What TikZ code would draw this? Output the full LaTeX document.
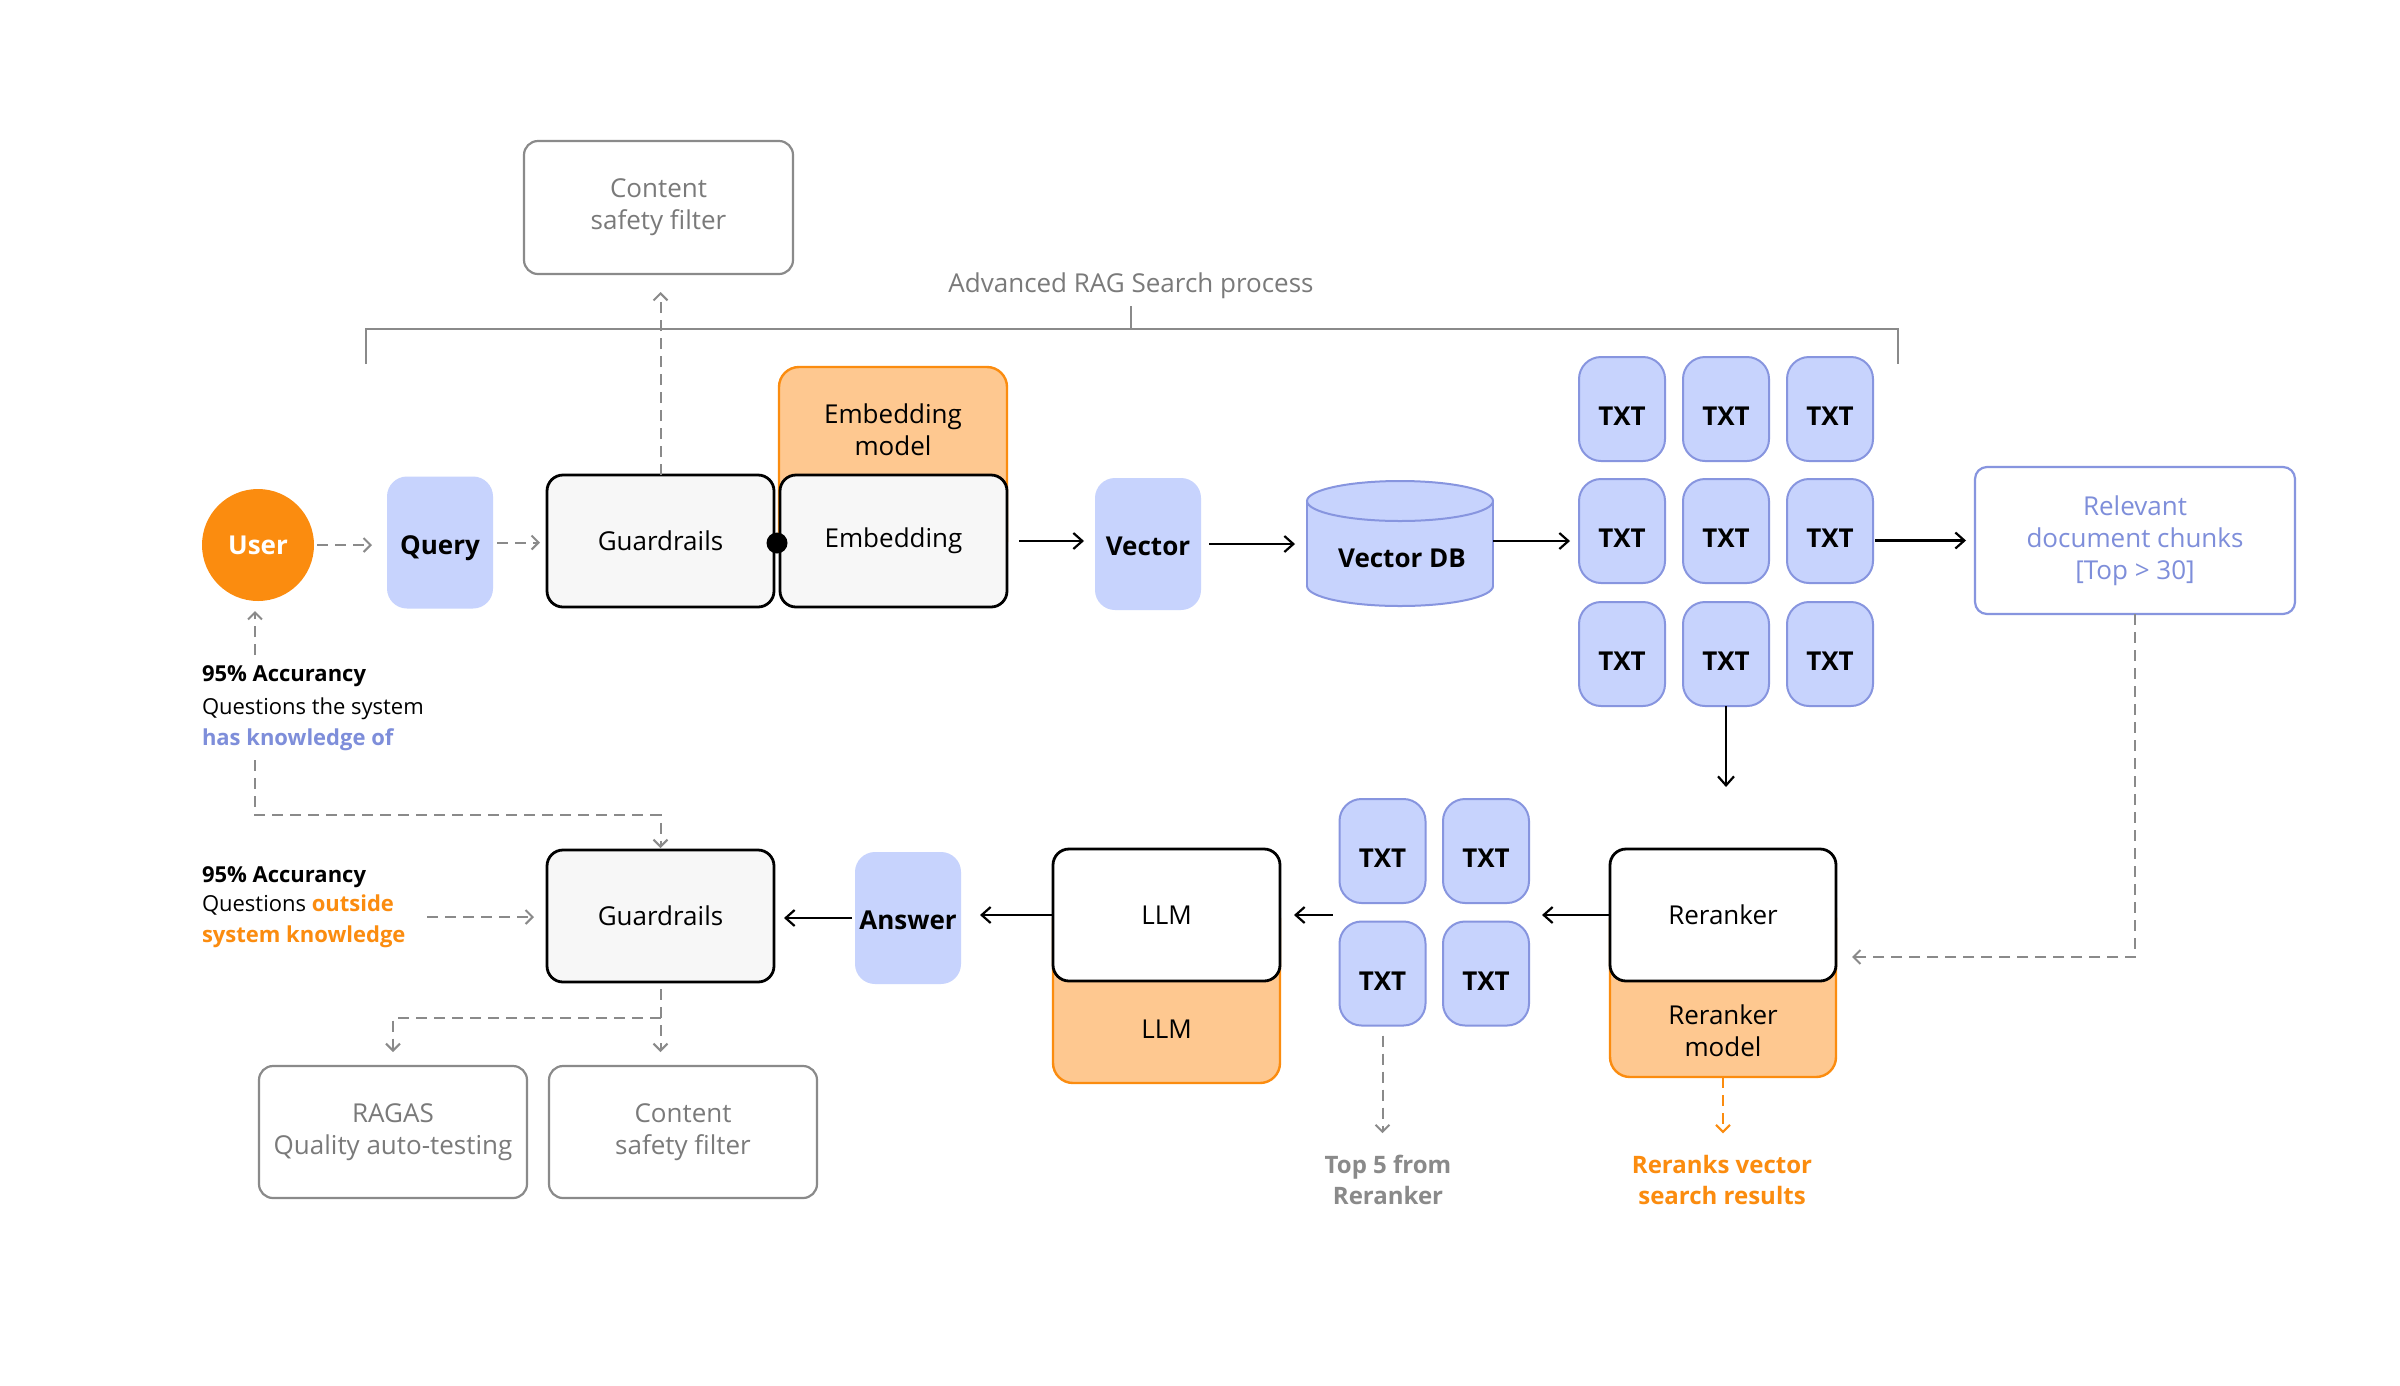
\documentclass[tikz,border=0pt]{standalone}
\usepackage{fontspec}
\setmainfont{Open Sans}
\usetikzlibrary{arrows.meta}
\definecolor{orng}{HTML}{FB8C0F}
\definecolor{orngl}{HTML}{FEC890}
\definecolor{lav}{HTML}{C7D3FD}
\definecolor{lavd}{HTML}{8795DF}
\definecolor{lavt}{HTML}{7E8EDA}
\definecolor{grayb}{HTML}{8A8A8A}
\definecolor{grayt}{HTML}{7A7A7A}
\definecolor{gfill}{HTML}{F7F7F7}
\begin{document}
\begin{tikzpicture}[x=1pt,y=-1pt,
  every node/.style={inner sep=0pt, outer sep=0pt},
  fnt/.style={font=\fontsize{26}{32}\selectfont},
  fntb/.style={font=\fontsize{26}{32}\selectfont\bfseries},
  blk/.style={fnt, draw=black, line width=2.8pt, rounded corners=16pt, fill=gfill, minimum width=227pt, minimum height=132pt},
  pill/.style={fntb, fill=lav, rounded corners=20pt, minimum width=106pt, minimum height=132pt, text height=29pt, text depth=6pt},
  txt/.style={fntb, draw=lavd, line width=2pt, fill=lav, rounded corners=22pt, minimum width=86pt, minimum height=104pt, text height=33pt, text depth=0pt},
  gbox/.style={fnt, draw=grayb, line width=2.2pt, rounded corners=14pt, fill=white, text=grayt, align=center, minimum width=268pt, minimum height=132pt},
  obox/.style={draw=orng, line width=2.4pt, fill=orngl, rounded corners=20pt},
  side/.style={anchor=base west, font=\fontsize{22}{28}\selectfont},
  sideb/.style={anchor=base west, font=\fontsize{22}{28}\selectfont\bfseries},
  note/.style={font=\fontsize{24}{31}\selectfont\bfseries, align=center},
  arr/.style={draw=black, line width=2.2pt, -{Straight Barb[length=9pt,width=16pt]}},
  dsh/.style={draw=grayb, line width=2pt, dash pattern=on 11pt off 7pt, -{Straight Barb[length=7pt,width=14pt]}},
  brk/.style={draw=grayb, line width=2.5pt}
]
\useasboundingbox[fill=white] (0,0) rectangle (2400,1385);

% top content filter and bracket
\node[gbox, minimum width=269pt, minimum height=133pt] (cs1) at (658.5,207.5) {Content\\safety filter};
\node[fnt, text=grayt, anchor=base] (title) at (1131,292) {Advanced RAG Search process};
\coordinate (bl) at (366,364);
\coordinate (br) at (1898,364);
\coordinate (bm) at (1131,329);
\draw[brk] (bl) -- (bl |- bm) -- (br |- bm) -- (br);
\draw[brk] (1131,306) -- (bm);

% upper row
\node[circle, fill=orng, minimum size=112pt, text=white, fntb] (user) at (258,545) {User};
\node[pill] (query) at (440,542.5) {Query};
\node[blk] (g1) at (660.5,541) {Guardrails};
\node[obox, minimum width=228pt, minimum height=193pt] (embm) at (893,463.5) {};
\node[fnt, align=center] (embmt) at (893,430) {Embedding\\model};
\node[blk] (emb) at (893.5,541) {Embedding};
\node[circle, fill=black, minimum size=21pt] (dot) at (777,543) {};
\node[pill] (vec) at (1148,544) {Vector};

% vector db cylinder
\node[minimum width=186pt, minimum height=125pt] (db) at (1400,541) {};
\filldraw[fill=lav, draw=lavd, line width=2pt] (1400,586) ellipse[x radius=93, y radius=20];
\fill[lav] (1307,501) rectangle (1493,586);
\draw[lavd, line width=2pt] (1307,501) -- (1307,586) (1493,501) -- (1493,586);
\filldraw[fill=lav, draw=lavd, line width=2pt] (1400,501) ellipse[x radius=93, y radius=20];
\node[fntb] (dbt) at (1402,558) {Vector DB};

% txt grid
\node[txt] (t11) at (1622,409) {TXT};
\node[txt] (t12) at (1726,409) {TXT};
\node[txt] (t13) at (1830,409) {TXT};
\node[txt] (t21) at (1622,531) {TXT};
\node[txt] (t22) at (1726,531) {TXT};
\node[txt] (t23) at (1830,531) {TXT};
\node[txt] (t31) at (1622,654) {TXT};
\node[txt] (t32) at (1726,654) {TXT};
\node[txt] (t33) at (1830,654) {TXT};

\node[fnt, draw=lavd, line width=2.2pt, rounded corners=12pt, text=lavt, align=center, minimum width=320pt, minimum height=147pt] (rel) at (2135,540.5) {Relevant\\document chunks\\{[Top > 30]}};

% lower row
\node[obox, minimum width=226pt, minimum height=177pt] (rrm) at (1723,988.5) {};
\node[fnt, align=center] (rrmt) at (1723,1031) {Reranker\\model};
\node[blk, fill=white, minimum width=226pt, minimum height=132pt] (rr) at (1723,915) {Reranker};

\node[txt] (s11) at (1382.5,851) {TXT};
\node[txt] (s12) at (1486,851) {TXT};
\node[txt] (s21) at (1382.5,973.5) {TXT};
\node[txt] (s22) at (1486,973.5) {TXT};

\node[obox, minimum width=227pt, minimum height=183pt] (llmm) at (1166.5,991.5) {};
\node[fnt] (llmt) at (1166.5,1029) {LLM};
\node[blk, fill=white, minimum height=132pt] (llm) at (1166.5,915) {LLM};

\node[pill] (ans) at (908,918) {Answer};
\node[blk, minimum height=132pt] (g2) at (660.5,916) {Guardrails};

\node[gbox] (ragas) at (393,1132) {RAGAS\\Quality auto-testing};
\node[gbox] (cs2) at (683,1132) {Content\\safety filter};

% side texts
\node[sideb] (acc1) at (202,681) {95\% Accurancy};
\node[side] (q1) at (202,714) {Questions the system};
\node[sideb, text=lavt] (k1) at (202,745) {has knowledge of};
\node[sideb] (acc2) at (202,882) {95\% Accurancy};
\node[side] (q2) at (202,911) {Questions {\bfseries\color{orng}outside}};
\node[sideb, text=orng] (k2) at (202,942) {system knowledge};

\node[note, text=grayb] (top5) at (1388,1180) {Top 5 from\\Reranker};
\node[note, text=orng] (rrk) at (1722,1180) {Reranks vector\\search results};

% solid connectors
\draw[arr, shorten <=12pt, shorten >=11pt] (emb.east) -- (emb.east -| vec.west);
\draw[arr, shorten <=8pt, shorten >=12pt] (vec.east) -- (vec.east -| db.west);
\draw[arr, shorten >=9pt] (db.east) -- (db.east -| t21.west);
\draw[arr, shorten <=2pt, shorten >=9pt] (rel.west -| t23.east) -- (rel.west);
\draw[arr, shorten >=62pt] (t32.south) -- (t32.south |- rr.north);
\draw[arr, shorten >=13pt] (rr.west) -- (rr.west -| s12.east);
\draw[arr, shorten <=7pt, shorten >=14pt] (llm.east -| s11.west) -- (llm.east);
\draw[arr, shorten >=19pt] (llm.west) -- (llm.west -| ans.east);
\draw[arr, shorten <=3pt, shorten >=10pt] (ans.west) -- (ans.west -| g2.east);

% dashed connectors
\draw[dsh, shorten <=3pt, shorten >=15pt] (user.east) -- (user.east -| query.west);
\draw[dsh, shorten <=4pt, shorten >=7pt] (query.east) -- (query.east -| g1.west);
\draw[dsh, shorten >=18pt] (g1.north) -- (g1.north |- cs1.south);
\coordinate (ku) at (255,601);
\draw[dsh, shorten <=10pt, shorten >=10pt] (ku |- acc1.north) -- (ku);
\coordinate (kbend) at (255,815);
\draw[dsh, shorten <=10pt, shorten >=2pt] (kbend |- k1.south) -- (kbend) -- (kbend -| g2.north) -- (g2.north);
\coordinate (t2s) at (427,917);
\draw[dsh, shorten >=13pt] (t2s) -- (t2s -| g2.west);
\draw[dsh, shorten <=7pt, shorten >=14pt] (g2.south) -- (g2.south |- cs2.north);
\coordinate (gbr) at (660.5,1018);
\draw[dsh, shorten >=14pt] (gbr) -- (gbr -| ragas.north) -- (ragas.north);
\coordinate (rrin) at (1836,957);
\draw[dsh, shorten >=16pt] (rel.south) -- (rel.south |- rrin) -- (rrin);
\draw[dsh, shorten <=10pt, shorten >=22pt] (s21.south) -- (s21.south |- top5.north);
\draw[dsh, draw=orng, shorten >=22pt] (rrm.south) -- (rrm.south |- rrk.north);
\end{tikzpicture}
\end{document}
